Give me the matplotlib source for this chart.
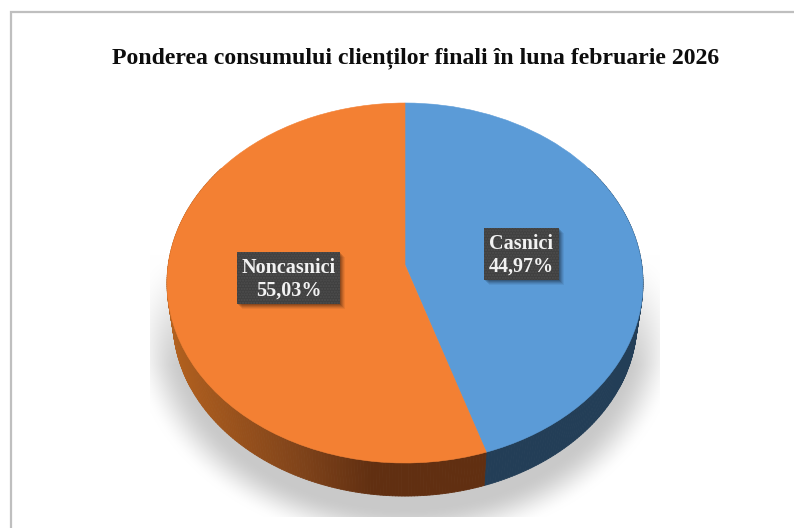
import numpy as np
import matplotlib
matplotlib.use("Agg")
import matplotlib.pyplot as plt
from matplotlib.collections import PolyCollection
from matplotlib.colors import to_rgb
from matplotlib.patches import Rectangle
from matplotlib.path import Path
from matplotlib.transforms import Transform

title = "Ponderea consumului clienților finali în luna februarie 2026"
categories = ["Casnici", "Noncasnici"]
values = [44.97, 55.03]
top_colors = ["#5B9BD7", "#F38033"]
label_boxes = [(484, 228, 75, 52), (237, 252, 103, 52)]

W, H = 794, 528
plt.rcParams["font.family"] = ["Liberation Serif", "DejaVu Serif"]
fig = plt.figure(figsize=(W / 100, H / 100), dpi=100)
ax = fig.add_axes([0, 0, 1, 1])

CX, CY, RX, RY, K = 405.0, 265.0, 236.8, 178.2, 0.10


def rim(theta, scale=1.0, shift=0.0):
    """Perspective position of the rim at clockwise angle theta (radians from top)."""
    w = 1 + K * np.cos(theta)
    return (CX + scale * RX * np.sin(theta) / w,
            CY + shift - scale * RY * np.cos(theta) / w)


class Perspective(Transform):
    input_dims = output_dims = 2
    is_separable = False
    has_inverse = False

    def transform_non_affine(self, values):
        pts = np.asarray(values, float)
        w = 1 + K * pts[:, 1]
        return np.column_stack((CX + RX * pts[:, 0] / w, CY - RY * pts[:, 1] / w))

    def transform_path_non_affine(self, path):
        return Path(self.transform_non_affine(path.vertices), path.codes)


wedges, _ = ax.pie(values, startangle=90, counterclock=False, radius=1,
                   colors=top_colors, wedgeprops=dict(linewidth=0.4, zorder=5))
for wedge, c in zip(wedges, top_colors):
    wedge.set_edgecolor(c)
    wedge.set_transform(Perspective() + ax.transData)
    wedge.set_clip_on(False)

ax.set_aspect("auto")
ax.set_xlim(0, W)
ax.set_ylim(H, 0)
ax.axis("off")

# soft ground shadow
yy, xx = np.mgrid[0:H, 0:W] + 0.5
dist = (np.hypot((xx - 405) / 250, (yy - 330) / 198) - 1) * 200
alpha = np.clip(-dist / 40 + 0.5, 0, 1)
alpha = alpha * alpha * (3 - 2 * alpha)
alpha *= np.clip((yy - 255) / 110, 0, 1)
alpha[(yy > 517) | (xx < 150) | (xx > 660)] = 0
shade = 1 - alpha * (1 - 0.79)
ax.imshow(np.dstack((shade, shade, shade)), extent=(0, W, H, 0), zorder=1, aspect="auto",
          interpolation="nearest")
ax.set_xlim(0, W)
ax.set_ylim(H, 0)

# side wall of the disc
SCALE, DROP = 0.975, 38.0
split = np.deg2rad(values[0] * 3.6)
edges = np.linspace(np.deg2rad(55), np.deg2rad(305), 361)
polys, facecolors = [], []
stops_x = [170, 190, 303, 372, 640]
stops = [to_rgb(c) for c in ("#B4621F", "#AC5D1E", "#7F431A", "#612F11", "#612F11")]
for a, b in zip(edges[:-1], edges[1:]):
    x1, y1 = rim(a)
    x2, y2 = rim(b)
    x3, y3 = rim(b, SCALE, DROP)
    x4, y4 = rim(a, SCALE, DROP)
    polys.append([(x1, y1), (x2, y2), (x3, y3), (x4, y4)])
    if (a + b) / 2 < split:
        facecolors.append(to_rgb("#233E57"))
    else:
        xm = (x3 + x4) / 2
        facecolors.append(tuple(np.interp(xm, stops_x, [s[i] for s in stops]) for i in range(3)))
ax.add_collection(PolyCollection(polys, facecolors=facecolors, edgecolors=facecolors,
                                 linewidths=0.6, zorder=3))

# frame (only left and top are inside the crop)
ax.plot([10.5, 10.5, W], [H, 11.5, 11.5], color="#BFBFBF", lw=1.6, zorder=2,
        solid_joinstyle="miter", clip_on=False)

ax.text(416, 58, title, ha="center", va="center", fontsize=17.15, fontweight="bold",
        color="#0D0D0D", zorder=10)

# data labels
for name, val, (x, y, w, h) in zip(categories, values, label_boxes):
    for off, a in ((6, 0.06), (5, 0.08), (4, 0.10), (3, 0.12), (2, 0.14)):
        ax.add_patch(Rectangle((x + off - 1, y + off - 1), w, h, fc="black", ec="none",
                               alpha=a, zorder=7))
    ax.add_patch(Rectangle((x, y), w, h, fc="#404040", ec="none", zorder=8))
    ax.add_patch(Rectangle((x, y), w, h, fc="none", ec="#4E4E4E", hatch="......",
                           lw=0, zorder=8))
    ax.text(x + w / 2, y + h / 2 + 1.5, f"{name}\n{val:.2f}%".replace(".", ","), ha="center",
            va="center", fontsize=14.5, fontweight="bold", color="#F2F2F2", linespacing=1.2,
            zorder=9)

fig.savefig("out.png", dpi=100)
